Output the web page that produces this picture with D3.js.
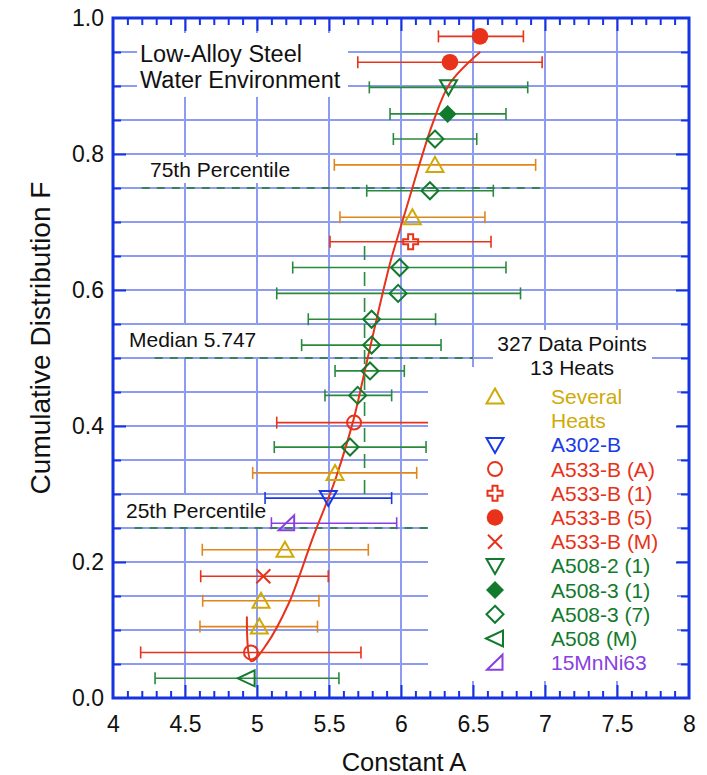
<!DOCTYPE html>
<html>
<head>
<meta charset="utf-8">
<script src="https://cdn.jsdelivr.net/npm/d3@7"></script>
<style>
  body { margin: 0; background: #fff; }
  svg text { font-family: "Liberation Sans", Arial, Helvetica, sans-serif; }
</style>
</head>
<body>
<svg id="chart" width="707" height="775"></svg>
<script>
// --- data ---
const seriesNames = ["Several Heats", "A302-B", "A533-B (A)", "A533-B (1)", "A533-B (5)",
  "A533-B (M)", "A508-2 (1)", "A508-3 (1)", "A508-3 (7)", "A508 (M)", "15MnNi63"];

// one entry per heat-group point, bottom to top
const pointSeries = ["A508 (M)", "A533-B (A)", "Several Heats", "Several Heats", "A533-B (M)",
  "Several Heats", "15MnNi63", "A302-B", "Several Heats", "A508-3 (7)", "A533-B (A)",
  "A508-3 (7)", "A508-3 (7)", "A508-3 (7)", "A508-3 (7)", "A508-3 (7)", "A508-3 (7)",
  "A533-B (1)", "Several Heats", "A508-3 (7)", "Several Heats", "A508-3 (7)", "A508-3 (1)",
  "A508-2 (1)", "A533-B (5)", "A533-B (5)"];
const pointA = [4.928, 4.958, 5.016, 5.028, 5.044, 5.194, 5.206, 5.495, 5.542, 5.646, 5.674,
  5.699, 5.785, 5.796, 5.796, 5.98, 5.99, 6.067, 6.079, 6.201, 6.236, 6.236, 6.324,
  6.33, 6.34, 6.549];
const pointF = [0.029, 0.067, 0.105, 0.143, 0.179, 0.218, 0.257, 0.294, 0.331, 0.369, 0.405,
  0.445, 0.481, 0.519, 0.557, 0.595, 0.633, 0.671, 0.707, 0.746, 0.784, 0.822, 0.859,
  0.898, 0.935, 0.973];
const barLow = [4.292, 4.192, 4.604, 4.623, 4.609, 4.62, 5.10, 5.056, 4.97, 5.12, 5.137,
  5.472, 5.542, 5.31, 5.356, 5.137, 5.248, 5.507, 5.576, 5.762, 5.537, 5.947, 5.924,
  5.78, 5.70, 6.26];
const barHigh = [5.569, 5.722, 5.42, 5.43, 5.495, 5.773, 5.97, 5.935, 6.109, 6.174, 6.35,
  5.935, 6.023, 6.278, 6.24, 6.83, 6.729, 6.625, 6.583, 6.641, 6.935, 6.526, 6.729,
  6.88, 6.98, 6.85];

// fitted distribution curve
const fitA = [4.93, 4.96, 5.07, 5.22, 5.30, 5.39, 5.50, 5.55, 5.67, 5.76, 5.85, 5.93,
  6.00, 6.065, 6.13, 6.22, 6.34, 6.55];
const fitF = [0.120, 0.054, 0.080, 0.139, 0.183, 0.237, 0.296, 0.325, 0.409, 0.492,
  0.575, 0.644, 0.694, 0.740, 0.786, 0.845, 0.904, 0.950];

const percentileF = [0.75, 0.5, 0.25];
const percentileLabels = ["75th Percentile", "Median 5.747", "25th Percentile"];
const medianA = 5.747;

const xTickLabels = ["4", "4.5", "5", "5.5", "6", "6.5", "7", "7.5", "8"];
const yTickLabels = ["0.0", "0.2", "0.4", "0.6", "0.8", "1.0"];

// --- styles ---
const RED = "#e8321a", GREEN = "#117a2c", BLUE = "#1a3ae6", GOLD = "#cfaa06",
      ORANGE = "#e0861c", PURPLE = "#8a40e0";
const style = {
  "Several Heats": { shape: "up", color: GOLD, bar: ORANGE, text: GOLD },
  "A302-B":       { shape: "down", color: BLUE, bar: BLUE, text: BLUE },
  "A533-B (A)":   { shape: "circle", color: RED, bar: RED, text: RED },
  "A533-B (1)":   { shape: "plus", color: RED, bar: RED, text: RED },
  "A533-B (5)":   { shape: "dot", color: RED, bar: RED, text: RED },
  "A533-B (M)":   { shape: "x", color: RED, bar: RED, text: RED },
  "A508-2 (1)":   { shape: "down", color: GREEN, bar: "#2a8a3c", text: GREEN },
  "A508-3 (1)":   { shape: "fdiamond", color: GREEN, bar: "#2a8a3c", text: GREEN },
  "A508-3 (7)":   { shape: "diamond", color: GREEN, bar: "#2a8a3c", text: GREEN },
  "A508 (M)":     { shape: "left", color: GREEN, bar: "#2a8a3c", text: GREEN },
  "15MnNi63":     { shape: "rtri", color: PURPLE, bar: PURPLE, text: PURPLE }
};

const svg = d3.select("#chart");
const margin = { left: 113, right: 18, top: 18, bottom: 77 };
const W = 707, H = 775;

const x = d3.scaleLinear().domain([4, 8]).range([margin.left, W - margin.right]);
const y = d3.scaleLinear().domain([0, 1]).range([H - margin.bottom, margin.top]);

// grid
const grid = svg.append("g");
grid.selectAll(".vg").data(d3.range(4.5, 8, 0.5)).join("line")
  .attr("x1", d => x(d)).attr("x2", d => x(d))
  .attr("y1", y(0)).attr("y2", y(1))
  .attr("stroke", "#8d9cf0").attr("stroke-width", 2);
grid.selectAll(".hg").data(d3.range(1, 20).map(i => i * 0.05)).join("line")
  .attr("x1", x(4)).attr("x2", x(8))
  .attr("y1", d => y(d)).attr("y2", d => y(d))
  .attr("stroke", "#8d9cf0").attr("stroke-width", 2);

// white boxes behind texts
function whiteBox(x0, y0, x1, y1) {
  svg.append("rect").attr("x", x0).attr("y", y0)
    .attr("width", x1 - x0).attr("height", y1 - y0).attr("fill", "#fff");
}
whiteBox(137, 33, 348, 97);
whiteBox(145, 157, 296, 183);
whiteBox(125, 325, 262, 357);
whiteBox(122, 495, 270, 527);
whiteBox(493, 330, 652, 367);

// percentile dashed lines
const pctExtent = [[4.2, 6.97], [4.29, 6.5], [4.15, 6.73]];
svg.selectAll(".pct").data(percentileF).join("line")
  .attr("x1", (d, i) => x(pctExtent[i][0])).attr("x2", (d, i) => x(pctExtent[i][1]))
  .attr("y1", d => y(d)).attr("y2", d => y(d))
  .attr("stroke", "#1a7a30").attr("stroke-width", 1.6)
  .attr("stroke-dasharray", "8,7");
svg.append("line")
  .attr("x1", x(medianA)).attr("x2", x(medianA))
  .attr("y1", y(0.30)).attr("y2", y(0.68))
  .attr("stroke", "#2a8a3c").attr("stroke-width", 1.6)
  .attr("stroke-dasharray", "14,12");

// text labels
const pctLabelPos = [[150, 177], [129, 347], [126, 518]];
svg.selectAll(".pctl").data(percentileLabels).join("text")
  .attr("x", (d, i) => pctLabelPos[i][0]).attr("y", (d, i) => pctLabelPos[i][1])
  .attr("font-size", 21).attr("fill", "#111").text(d => d);
svg.append("text").attr("x", 140).attr("y", 62).attr("font-size", 23.5)
  .attr("fill", "#111").text("Low-Alloy Steel");
svg.append("text").attr("x", 140).attr("y", 88).attr("font-size", 23.5)
  .attr("fill", "#111").text("Water Environment");

// error bars
const rows = pointA.map((a, i) => ({ s: pointSeries[i], a, f: pointF[i], lo: barLow[i], hi: barHigh[i] }));
const bars = svg.append("g");
rows.forEach(r => {
  const c = style[r.s].bar, yy = y(r.f);
  bars.append("line").attr("x1", x(r.lo)).attr("x2", x(r.hi)).attr("y1", yy).attr("y2", yy)
    .attr("stroke", c).attr("stroke-width", 1.6);
  [r.lo, r.hi].forEach(v => bars.append("line")
    .attr("x1", x(v)).attr("x2", x(v)).attr("y1", yy - 6).attr("y2", yy + 6)
    .attr("stroke", c).attr("stroke-width", 1.6));
});

// fitted curve
const fit = fitA.map((a, i) => [a, fitF[i]]);
svg.append("path").datum(fit)
  .attr("d", d3.line().x(d => x(d[0])).y(d => y(d[1])).curve(d3.curveCatmullRom.alpha(0.5)))
  .attr("fill", "none").attr("stroke", RED).attr("stroke-width", 2);

// markers
function marker(g, shape, color, cx, cy) {
  const m = g.append("g").attr("transform", `translate(${cx},${cy})`);
  const open = { fill: "none", stroke: color, "stroke-width": 2 };
  const apply = (sel, o) => { Object.entries(o).forEach(([k, v]) => sel.attr(k, v)); return sel; };
  switch (shape) {
    case "up": apply(m.append("path").attr("d", "M0,-8L8.5,7L-8.5,7Z"), open); break;
    case "down": apply(m.append("path").attr("d", "M0,8L8.5,-7L-8.5,-7Z"), open); break;
    case "left": apply(m.append("path").attr("d", "M-9,0L8,-8L8,8Z"), open); break;
    case "rtri": apply(m.append("path").attr("d", "M-8,7L7.5,7L7.5,-8Z"), open); break;
    case "circle": apply(m.append("circle").attr("r", 7), open); break;
    case "dot": m.append("circle").attr("r", 8.3).attr("fill", color); break;
    case "diamond": apply(m.append("path").attr("d", "M0,-8.5L8.5,0L0,8.5L-8.5,0Z"), open); break;
    case "fdiamond": m.append("path").attr("d", "M0,-9L9,0L0,9L-9,0Z").attr("fill", color); break;
    case "x":
      apply(m.append("path").attr("d", "M-7,-7L7,7M-7,7L7,-7"), open); break;
    case "plus":
      apply(m.append("path").attr("d",
        "M-2.5,-7.5H2.5V-2.5H7.5V2.5H2.5V7.5H-2.5V2.5H-7.5V-2.5H-2.5Z"), open); break;
  }
}
const marks = svg.append("g");
rows.forEach(r => marker(marks, style[r.s].shape, style[r.s].color, x(r.a), y(r.f)));

// legend
whiteBox(428, 367, 677, 681);
svg.append("text").attr("x", 572).attr("y", 351).attr("text-anchor", "middle")
  .attr("font-size", 21).attr("fill", "#111").text("327 Data Points");
svg.append("text").attr("x", 572).attr("y", 375).attr("text-anchor", "middle")
  .attr("font-size", 21).attr("fill", "#111").text("13 Heats");
const legendLines = [];
seriesNames.forEach(n => {
  if (n === "Several Heats") { legendLines.push({ n, t: "Several", glyph: true }); legendLines.push({ n, t: "Heats", glyph: false }); }
  else legendLines.push({ n, t: n, glyph: true });
});
const leg = svg.append("g");
legendLines.forEach((l, i) => {
  const by = 404 + 24.2 * i;
  if (l.glyph) marker(leg, style[l.n].shape, style[l.n].color, 495, by - 7.5);
  leg.append("text").attr("x", 551).attr("y", by).attr("font-size", 21)
    .attr("fill", style[l.n].text).text(l.t);
});

// axes: frame + inward ticks
const AX = "#1533e0";
const ax = svg.append("g");
const minorX = d3.range(41, 80).map(i => i / 10).filter(v => Math.round(v * 10) % 5 !== 0);
const majorX = d3.range(4.5, 8, 0.5);
const minorY = d3.range(1, 20).map(i => i * 0.05).filter(v => Math.round(v * 100) % 20 !== 0);
const majorY = [0.2, 0.4, 0.6, 0.8];
function tickAxis(axis, tr, vals, len) {
  const g = ax.append("g").attr("transform", tr)
    .call(axis.tickValues(vals).tickSize(-len).tickFormat(""));
  g.select(".domain").remove();
  g.selectAll(".tick line").attr("stroke", AX).attr("stroke-width", 2);
}
tickAxis(d3.axisBottom(x), `translate(0,${y(0)})`, minorX, 7);
tickAxis(d3.axisBottom(x), `translate(0,${y(0)})`, majorX, 13);
tickAxis(d3.axisTop(x), `translate(0,${y(1)})`, minorX, 7);
tickAxis(d3.axisTop(x), `translate(0,${y(1)})`, majorX, 13);
tickAxis(d3.axisLeft(y), `translate(${x(4)},0)`, minorY, 8);
tickAxis(d3.axisLeft(y), `translate(${x(4)},0)`, majorY, 13);
tickAxis(d3.axisRight(y), `translate(${x(8)},0)`, minorY, 8);
tickAxis(d3.axisRight(y), `translate(${x(8)},0)`, majorY, 13);

ax.append("rect").attr("x", x(4)).attr("y", y(1))
  .attr("width", x(8) - x(4)).attr("height", y(0) - y(1))
  .attr("fill", "none").attr("stroke", AX).attr("stroke-width", 3);

// tick labels
const xl = d3.axisBottom(x).tickValues(d3.range(0, 9).map(i => 4 + i * 0.5))
  .tickSize(0).tickPadding(18).tickFormat((d, i) => xTickLabels[i]);
const xg = svg.append("g").attr("transform", `translate(0,${y(0)})`).call(xl);
xg.select(".domain").remove();
xg.selectAll("text").attr("font-size", 23).attr("fill", "#111")
  .attr("font-family", "Liberation Sans, Arial, sans-serif");

const yl = d3.axisLeft(y).tickValues(d3.range(0, 6).map(i => i * 0.2))
  .tickSize(0).tickPadding(9).tickFormat((d, i) => yTickLabels[i]);
const yg = svg.append("g").attr("transform", `translate(${x(4)},0)`).call(yl);
yg.select(".domain").remove();
yg.selectAll("text").attr("font-size", 23).attr("fill", "#111")
  .attr("font-family", "Liberation Sans, Arial, sans-serif");

// axis titles
svg.append("text").attr("x", 404).attr("y", 771).attr("text-anchor", "middle")
  .attr("font-size", 25.5).attr("fill", "#111").text("Constant A");
svg.append("text").attr("transform", "translate(50,338) rotate(-90)")
  .attr("text-anchor", "middle").attr("font-size", 28).attr("fill", "#111")
  .text("Cumulative Distribution F");
</script>
</body>
</html>
